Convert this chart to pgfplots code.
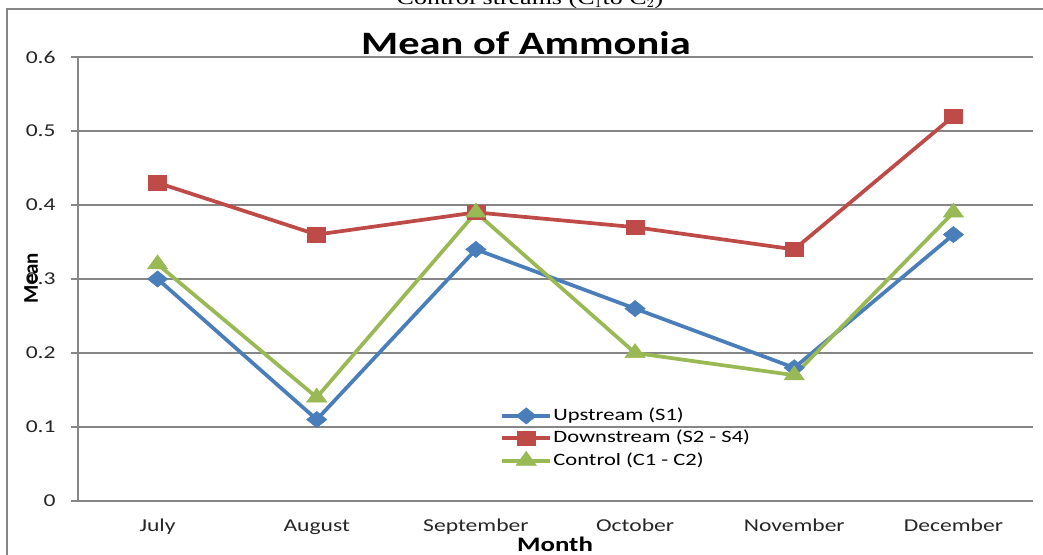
\documentclass[border=0pt]{standalone}
\usepackage{pgfplots}
\pgfplotsset{compat=1.18}
\usepackage{fontspec}
\setmainfont{Carlito}[FakeStretch=1.3]
\newfontfamily\plainfont{Carlito}
\newfontfamily\serifstretch{Liberation Serif}[FakeStretch=1.3]
\definecolor{cblue}{HTML}{4A7EBB}
\definecolor{cred}{HTML}{BE4B48}
\definecolor{cgreen}{HTML}{98B954}
\definecolor{cgrid}{HTML}{868686}
\begin{document}
\begin{tikzpicture}
\path[use as bounding box] (-58.5pt,-40.5pt) rectangle (723.75pt,375.75pt);
\clip (-58.5pt,-40.5pt) rectangle (723.75pt,375.75pt);
\begin{axis}[
  at={(0pt,0pt)}, anchor=south west,
  scale only axis, width=716.25pt, height=333pt,
  xmin=-0.5, xmax=5.5, ymin=0, ymax=0.6,
  xtick={0,1,2,3,4,5},
  xticklabels={July,August,September,October,November,December},
  ytick={0,0.1,0.2,0.3,0.4,0.5,0.6},
  /pgf/number format/assume math mode=true,
  yticklabel style={/pgf/number format/fixed,/pgf/number format/precision=1, xshift=-8pt},
  xticklabel style={yshift=-5pt},
  ticklabel style={font=\fontsize{13.6}{16}\selectfont, color=black!85},
  axis x line*=bottom, axis y line*=left,
  axis line style={-, draw=cgrid, line width=1pt},
  ymajorgrids, grid style={draw=cgrid, line width=1pt},
  tick align=outside, major tick length=5.25pt,
  ytick style={draw=cgrid, line width=1pt},
  xtick style={draw=none},
  legend cell align=left,
  legend style={at={(0.442,0.214)}, anchor=north west, draw=none, fill=none,
    font=\fontsize{13}{15}\selectfont, inner sep=0pt, row sep=2.3pt,
    nodes={inner sep=1pt, text height=9.5pt, text depth=3pt}},
  legend image code/.code={\draw[mark repeat=2,mark phase=2] plot coordinates {(0pt,0pt) (18pt,0pt) (36pt,0pt)};},
]
\addplot[color=cblue, line width=2.8pt, mark=square*, mark size=4.3pt,
  mark options={xscale=1.25, rotate=45, solid, line width=0.4pt, fill=cblue}]
  coordinates {(0,0.30) (1,0.11) (2,0.34) (3,0.26) (4,0.18) (5,0.36)};
\addlegendentry{Upstream (S1)}
\addplot[color=cred, line width=2.8pt, mark=square*, mark size=5.4pt,
  mark options={xscale=1.25, solid, line width=0.4pt, fill=cred}]
  coordinates {(0,0.43) (1,0.36) (2,0.39) (3,0.37) (4,0.34) (5,0.52)};
\addlegendentry{Downstream (S2 - S4)}
\addplot[color=cgreen, line width=2.8pt, mark=triangle*, mark size=7pt,
  mark options={xscale=1.25, solid, line width=0.4pt, fill=cgreen}]
  coordinates {(0,0.32) (1,0.14) (2,0.39) (3,0.20) (4,0.17) (5,0.39)};
\addlegendentry{Control (C1 - C2)}
\end{axis}
\node[anchor=base, font=\fontsize{24.5}{28}\selectfont\bfseries] at (336pt,334.5pt) {Mean of Ammonia};
\node[anchor=base, font=\fontsize{15.5}{18}\selectfont\bfseries] at (357.75pt,-38pt) {Month};
\node[anchor=base, rotate=90, font=\plainfont\fontsize{15.7}{18}\selectfont\bfseries] at (-30pt,167.25pt) {Mean};
\node[anchor=base, font=\serifstretch\fontsize{15}{18}\selectfont] at (339pt,372pt) {Control streams (C$_1$to C$_2$)};
\draw[cgrid, line width=1.5pt] (-53.25pt,-60pt) rectangle (740pt,369pt);
\end{tikzpicture}
\end{document}
